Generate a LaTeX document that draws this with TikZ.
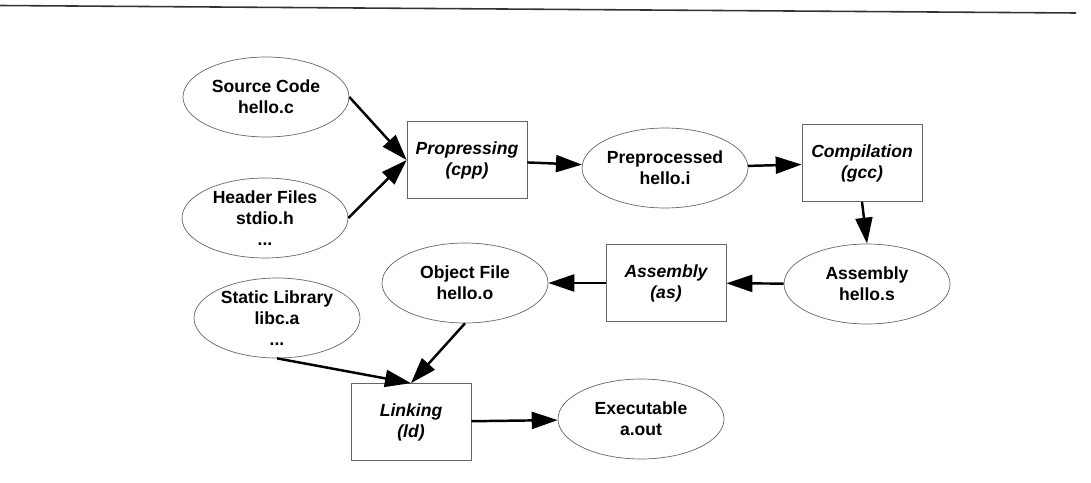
\documentclass[tikz,border=0pt]{standalone}
\usepackage{fontspec}
\setmainfont{Liberation Sans}
\usetikzlibrary{arrows.meta, shapes.geometric}

\begin{document}
\begin{tikzpicture}[x=0.02cm, y=-0.02cm, font=\fontsize{10}{12}\selectfont\bfseries,
    file/.style={draw=black!60, ellipse, minimum width=3.32cm, minimum height=1.6cm, inner sep=0pt, align=center},
    tool/.style={draw=black!60, minimum width=2.4cm, minimum height=1.54cm, inner sep=0pt, align=center, font=\fontsize{10}{12}\selectfont\bfseries\itshape},
    flow/.style={-{Triangle[length=0.52cm, width=0.34cm]}, line width=1.4pt}]
          \useasboundingbox (0,0) rectangle (1091,483);
          \draw[line width=0.9pt, black!80] (0,5.5) -- (1076,13);
          % inputs
          \node[file] (src) at (266,97) {Source Code\\hello.c};
          \node[file] (hdr) at (265,218) {Header Files\\stdio.h\\...};
          \node[tool] (cpp) at (467,160) {Propressing\\(cpp)};
          \node[file] (pre) at (665,168) {Preprocessed\\hello.i};
          \node[tool] (gcc) at (862,163) {Compilation\\(gcc)};
          \node[file] (asms) at (867,284) {Assembly\\hello.s};
          \node[tool] (as) at (666,283) {Assembly\\(as)};
          \node[file] (obj) at (465,283) {Object File\\hello.o};
          \node[file] (lib) at (277,318) {Static Library\\libc.a\\...};
          \node[tool] (ld) at (411,422) {Linking\\(ld)};
          \node[file] (exe) at (641,419) {Executable\\a.out};
          % flow
          \draw[flow] (src.east) -- (cpp.west);
          \draw[flow] (hdr.east) -- (cpp.west);
          \draw[flow] (cpp) -- (pre);
          \draw[flow] (pre) -- (gcc);
          \draw[flow] (gcc.south) -- (asms.north);
          \draw[flow] (asms) -- (as);
          \draw[flow] (as) -- (obj);
          \draw[flow] (obj.south) -- (ld.north);
          \draw[flow] (lib.south) -- (ld.north);
          \draw[flow] (ld) -- (exe);
        \end{tikzpicture}
\end{document}
